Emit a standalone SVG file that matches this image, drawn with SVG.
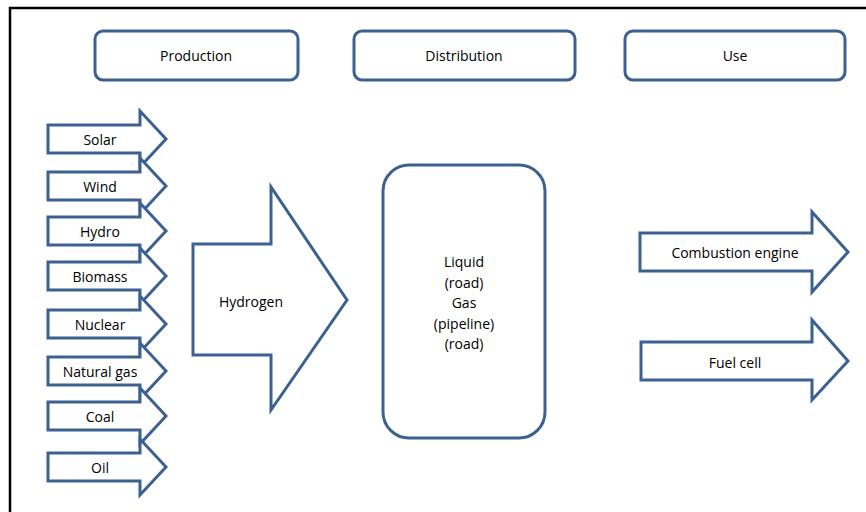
<svg xmlns="http://www.w3.org/2000/svg" width="866" height="512" viewBox="0 0 866 512">
<style>
.s{fill:#fff;stroke:#3c6190;stroke-width:3;stroke-linejoin:miter}
.t{font-family:"Open Sans","Liberation Sans",sans-serif;font-size:14px;fill:#000;text-anchor:middle;dominant-baseline:central}
</style>
<rect width="866" height="512" fill="#fff"/>
<path d="M10,512 V8 H866" fill="none" stroke="#000" stroke-width="2.5"/>
<g id="production"><rect class="s" x="95" y="31" width="203" height="49" rx="8"/><text class="t" x="196" y="55">Production</text></g>
<g id="distribution"><rect class="s" x="354" y="31" width="221" height="49" rx="8"/><text class="t" x="464" y="55">Distribution</text></g>
<g id="use"><rect class="s" x="625" y="31" width="220" height="49" rx="8"/><text class="t" x="735" y="55">Use</text></g>
<g id="connectors">
<g id="solar"><path class="s" d="M48,125 H140 V111 L166,139 L140,167 V153 H48 Z"/><text class="t" x="100" y="139">Solar</text></g>
<g id="wind"><path class="s" d="M48,172 H140 V158 L166,186 L140,214 V200 H48 Z"/><text class="t" x="100" y="186">Wind</text></g>
<g id="hydro"><path class="s" d="M48,217 H140 V203 L166,231 L140,259 V245 H48 Z"/><text class="t" x="100" y="231">Hydro</text></g>
<g id="biomass"><path class="s" d="M48,262 H140 V248 L166,276 L140,304 V290 H48 Z"/><text class="t" x="100" y="276">Biomass</text></g>
<g id="nuclear"><path class="s" d="M48,310 H140 V296 L166,324 L140,352 V338 H48 Z"/><text class="t" x="100" y="324">Nuclear</text></g>
<g id="naturalgas"><path class="s" d="M48,357 H140 V343 L166,371 L140,399 V385 H48 Z"/><text class="t" x="100" y="371">Natural gas</text></g>
<g id="coal"><path class="s" d="M48,402 H140 V388 L166,416 L140,444 V430 H48 Z"/><text class="t" x="100" y="416">Coal</text></g>
<g id="oil"><path class="s" d="M48,453 H140 V439 L166,467 L140,495 V481 H48 Z"/><text class="t" x="100" y="467">Oil</text></g>
<g id="hydrogen"><path class="s" d="M193,244 H271 V187 L347,300 L271,410 V355 H193 Z"/><text class="t" x="251" y="301">Hydrogen</text></g>
<g id="combustion"><path class="s" d="M640,233 H812 V212 L848,252 L812,292 V271 H640 Z"/><text class="t" x="735" y="252">Combustion engine</text></g>
<g id="fuelcell"><path class="s" d="M641,342 H812 V320 L848,361 L812,400 V380 H641 Z"/><text class="t" x="735" y="362">Fuel cell</text></g>
</g>
<g id="storage"><rect class="s" x="383" y="165" width="162" height="273" rx="26"/>
<text class="t" x="464" y="261">Liquid</text>
<text class="t" x="464" y="282">(road)</text>
<text class="t" x="464" y="302">Gas</text>
<text class="t" x="464" y="323">(pipeline)</text>
<text class="t" x="464" y="343">(road)</text>
</g>
</svg>
